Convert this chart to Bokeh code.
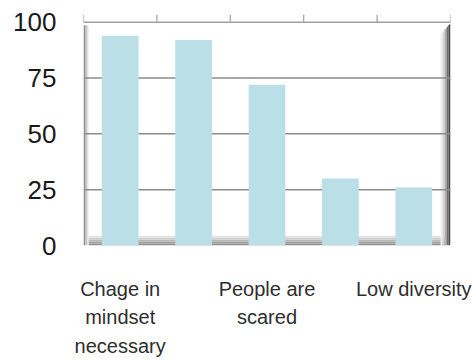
from bokeh.plotting import figure
from bokeh.models import FixedTicker, Range1d
from bokeh.embed import file_html
from bokeh.resources import INLINE

# Survey results: share of respondents agreeing with each statement
positions = [1, 2, 3, 4, 5]
values = [94, 92, 72, 30, 26]
tick_labels = {
    1: "Chage in\nmindset\nnecessary",
    3: "People are\nscared",
    5: "Low diversity",
}
y_ticks = [0, 25, 50, 75, 100]
divider_ticks = [0.5, 1.5, 2.5, 3.5, 4.5, 5.5]

W, H = 472, 359
LEFT, RIGHT, TOP, BOTTOM = 83, 22, 14, 106
X0, X1 = 0.5, 5.5
Y0, YMAX = 0, 100
PX_PER_Y = 2.31                      # vertical scale of the value axis
TICK_PX = 8                          # headroom above 100 for divider ticks
Y1 = YMAX + TICK_PX / PX_PER_Y

p = figure(
    width=W, height=H,
    x_range=Range1d(X0, X1), y_range=Range1d(Y0, Y1),
    output_backend="svg", toolbar_location=None,
    min_border_left=LEFT, min_border_right=RIGHT,
    min_border_top=TOP, min_border_bottom=BOTTOM,
)
p.outline_line_color = None
p.background_fill_color = "white"
p.border_fill_color = "white"

# pixel -> data helpers for the 3-D wall / floor shading
fw = W - LEFT - RIGHT
dx = (X1 - X0) / fw
dy = 1 / PX_PER_Y

# blank the headroom strip above the top edge
p.quad(left=X0, right=X1, bottom=YMAX, top=Y1,
       fill_color="white", line_color=None)

# floor: grey band darkening toward the front edge
floor = [(10, 8, "#e4e4e4"), (8, 6, "#d0d0d0"), (6, 4, "#b8b8b8"),
         (4, 2, "#a2a2a2"), (2, 0, "#909090")]
for top_px, bot_px, col in floor:
    p.quad(left=X0 + 5 * dx, right=X1 - 5 * dx,
           bottom=Y0 + bot_px * dy, top=Y0 + top_px * dy,
           fill_color=col, line_color=None)

# left wall: thin shaded edge
left_wall = [(0, 1.5, "#8e8e8e"), (1.5, 3.5, "#c4c4c4"), (3.5, 5, "#e4e4e4")]
for a, b, col in left_wall:
    p.quad(left=X0 + a * dx, right=X0 + b * dx,
           bottom=Y0, top=YMAX - 3 * dy,
           fill_color=col, line_color=None)

# right wall: white-to-dark gradient with slanted top corner
right_wall = [(10, 8, "#f0f0f0"), (8, 6, "#d6d6d6"), (6, 4, "#b0b0b0"),
              (4, 2, "#707070"), (2, 0, "#4a4a4a")]
for a, b, col in right_wall:
    xa, xb = X1 - a * dx, X1 - b * dx
    ya = YMAX - (1 + a * 1.2) * dy
    yb = YMAX - (1 + b * 1.2) * dy
    p.patch(x=[xa, xb, xb, xa], y=[Y0, Y0, yb, ya],
            fill_color=col, line_color=None)

# horizontal gridlines
grid_levels = [t for t in y_ticks if 0 < t < YMAX]
p.segment(x0=[X0] * len(grid_levels), x1=[X1] * len(grid_levels),
          y0=grid_levels, y1=grid_levels,
          line_color="#8c8c8c", line_width=1.5)

# top edge with category divider ticks
p.segment(x0=[X0], x1=[X1], y0=[YMAX], y1=[YMAX],
          line_color="#a0a0a0", line_width=1.5)
p.segment(x0=divider_ticks, x1=divider_ticks,
          y0=[YMAX] * len(divider_ticks), y1=[Y1] * len(divider_ticks),
          line_color="#a0a0a0", line_width=1.2)

p.vbar(x=positions, top=values, bottom=0, width=0.5,
       fill_color="#bbdfe6", line_color=None)

FONT = "Liberation Sans"

# value axis
p.yaxis.ticker = FixedTicker(ticks=y_ticks)
p.yaxis.axis_line_color = None
p.yaxis.major_tick_line_color = None
p.yaxis.minor_tick_line_color = None
p.yaxis.major_label_standoff = 21
p.yaxis.major_label_text_font = FONT
p.yaxis.major_label_text_font_size = "26px"
p.yaxis.major_label_text_color = "#1a1a1a"

# category axis: only every other category is labelled
p.xaxis.ticker = FixedTicker(ticks=list(tick_labels.keys()))
p.xaxis.major_label_overrides = tick_labels
p.xaxis.axis_line_color = None
p.xaxis.major_tick_line_color = None
p.xaxis.minor_tick_line_color = None
p.xaxis.major_label_standoff = 26
p.xaxis.major_label_text_font = FONT
p.xaxis.major_label_text_font_size = "20px"
p.xaxis.major_label_text_color = "#2e2e2e"
p.xaxis.major_label_text_line_height = 1.3

p.xgrid.visible = False
p.ygrid.visible = False

open("out.html", "w").write(file_html(p, INLINE))
